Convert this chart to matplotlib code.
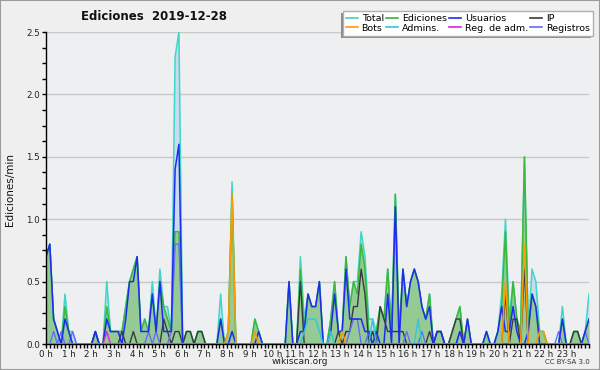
import numpy as np
import matplotlib
matplotlib.use('Agg')
import matplotlib.pyplot as plt
from matplotlib.patches import Rectangle
from matplotlib.lines import Line2D
from matplotlib.ticker import MultipleLocator, FixedLocator, FuncFormatter

# ---- data: edits per minute, one value per 10-minute slot (144 slots) ----
total = [
    0.7, 0.8, 0.2, 0.1, 0.0, 0.4,  0.1, 0.1, 0.0, 0.0, 0.0, 0.0,
    0.0, 0.1, 0.0, 0.0, 0.5, 0.1,  0.1, 0.1, 0.1, 0.3, 0.5, 0.6,
    0.7, 0.1, 0.2, 0.1, 0.5, 0.1,  0.6, 0.3, 0.3, 0.1, 2.3, 2.5,
    0.0, 0.1, 0.1, 0.0, 0.1, 0.1,  0.0, 0.0, 0.0, 0.0, 0.4, 0.0,
    0.1, 1.3, 0.0, 0.0, 0.0, 0.0,  0.0, 0.2, 0.1, 0.0, 0.0, 0.0,
    0.0, 0.0, 0.0, 0.0, 0.5, 0.0,  0.0, 0.7, 0.2, 0.4, 0.3, 0.3,
    0.5, 0.0, 0.0, 0.2, 0.5, 0.1,  0.1, 0.7, 0.3, 0.5, 0.5, 0.9,
    0.7, 0.2, 0.2, 0.1, 0.3, 0.2,  0.6, 0.1, 1.2, 0.1, 0.6, 0.3,
    0.5, 0.6, 0.5, 0.3, 0.2, 0.4,  0.0, 0.1, 0.1, 0.0, 0.0, 0.1,
    0.2, 0.3, 0.0, 0.2, 0.0, 0.0,  0.0, 0.0, 0.1, 0.0, 0.0, 0.1,
    0.4, 1.0, 0.2, 0.5, 0.2, 0.1,  1.5, 0.1, 0.6, 0.5, 0.1, 0.1,
    0.0, 0.0, 0.0, 0.0, 0.3, 0.0,  0.0, 0.1, 0.1, 0.0, 0.1, 0.4,
]
ediciones = [
    0.7, 0.8, 0.2, 0.1, 0.0, 0.3,  0.1, 0.0, 0.0, 0.0, 0.0, 0.0,
    0.0, 0.1, 0.0, 0.0, 0.3, 0.1,  0.1, 0.1, 0.1, 0.3, 0.5, 0.6,
    0.7, 0.1, 0.2, 0.1, 0.4, 0.1,  0.5, 0.3, 0.2, 0.1, 0.9, 0.9,
    0.0, 0.1, 0.1, 0.0, 0.1, 0.1,  0.0, 0.0, 0.0, 0.0, 0.2, 0.0,
    0.1, 1.2, 0.0, 0.0, 0.0, 0.0,  0.0, 0.2, 0.1, 0.0, 0.0, 0.0,
    0.0, 0.0, 0.0, 0.0, 0.5, 0.0,  0.0, 0.6, 0.1, 0.4, 0.3, 0.3,
    0.5, 0.0, 0.0, 0.2, 0.5, 0.1,  0.1, 0.7, 0.3, 0.5, 0.4, 0.8,
    0.6, 0.1, 0.1, 0.1, 0.3, 0.2,  0.6, 0.1, 1.2, 0.1, 0.6, 0.3,
    0.5, 0.6, 0.5, 0.3, 0.2, 0.4,  0.0, 0.1, 0.1, 0.0, 0.0, 0.1,
    0.2, 0.3, 0.0, 0.2, 0.0, 0.0,  0.0, 0.0, 0.1, 0.0, 0.0, 0.1,
    0.3, 0.9, 0.1, 0.5, 0.2, 0.1,  1.5, 0.1, 0.4, 0.3, 0.1, 0.1,
    0.0, 0.0, 0.0, 0.0, 0.2, 0.0,  0.0, 0.1, 0.1, 0.0, 0.1, 0.2,
]
usuarios = [
    0.7, 0.8, 0.2, 0.1, 0.0, 0.2,  0.1, 0.0, 0.0, 0.0, 0.0, 0.0,
    0.0, 0.1, 0.0, 0.0, 0.2, 0.1,  0.1, 0.1, 0.0, 0.2, 0.5, 0.5,
    0.7, 0.1, 0.1, 0.1, 0.4, 0.1,  0.5, 0.1, 0.1, 0.1, 1.4, 1.6,
    0.0, 0.0, 0.0, 0.0, 0.0, 0.0,  0.0, 0.0, 0.0, 0.0, 0.2, 0.0,
    0.0, 0.1, 0.0, 0.0, 0.0, 0.0,  0.0, 0.0, 0.1, 0.0, 0.0, 0.0,
    0.0, 0.0, 0.0, 0.0, 0.5, 0.0,  0.0, 0.1, 0.1, 0.4, 0.3, 0.3,
    0.5, 0.0, 0.0, 0.1, 0.4, 0.1,  0.1, 0.6, 0.2, 0.2, 0.2, 0.2,
    0.1, 0.1, 0.0, 0.1, 0.0, 0.0,  0.4, 0.0, 1.1, 0.0, 0.6, 0.3,
    0.5, 0.6, 0.5, 0.3, 0.2, 0.3,  0.0, 0.1, 0.1, 0.0, 0.0, 0.0,
    0.0, 0.1, 0.0, 0.2, 0.0, 0.0,  0.0, 0.0, 0.1, 0.0, 0.0, 0.1,
    0.3, 0.1, 0.1, 0.3, 0.1, 0.0,  0.0, 0.1, 0.4, 0.3, 0.0, 0.0,
    0.0, 0.0, 0.0, 0.0, 0.2, 0.0,  0.0, 0.0, 0.0, 0.0, 0.1, 0.2,
]
ip = [
    0.0, 0.0, 0.0, 0.0, 0.0, 0.0,  0.0, 0.0, 0.0, 0.0, 0.0, 0.0,
    0.0, 0.1, 0.0, 0.0, 0.0, 0.0,  0.0, 0.0, 0.1, 0.0, 0.0, 0.1,
    0.0, 0.0, 0.0, 0.0, 0.0, 0.0,  0.0, 0.2, 0.1, 0.0, 0.1, 0.1,
    0.0, 0.1, 0.1, 0.0, 0.1, 0.1,  0.0, 0.0, 0.0, 0.0, 0.0, 0.0,
    0.0, 0.0, 0.0, 0.0, 0.0, 0.0,  0.0, 0.0, 0.0, 0.0, 0.0, 0.0,
    0.0, 0.0, 0.0, 0.0, 0.0, 0.0,  0.0, 0.5, 0.0, 0.0, 0.0, 0.0,
    0.0, 0.0, 0.0, 0.0, 0.0, 0.1,  0.0, 0.1, 0.1, 0.3, 0.3, 0.6,
    0.4, 0.0, 0.1, 0.0, 0.3, 0.2,  0.1, 0.1, 0.1, 0.1, 0.1, 0.0,
    0.0, 0.0, 0.0, 0.0, 0.0, 0.1,  0.0, 0.1, 0.1, 0.0, 0.0, 0.1,
    0.2, 0.2, 0.0, 0.0, 0.0, 0.0,  0.0, 0.0, 0.0, 0.0, 0.0, 0.0,
    0.0, 0.4, 0.0, 0.2, 0.2, 0.0,  0.6, 0.0, 0.0, 0.0, 0.0, 0.0,
    0.0, 0.0, 0.0, 0.0, 0.0, 0.0,  0.0, 0.1, 0.1, 0.0, 0.0, 0.0,
]
bots = [0.0] * 144
for i, v in [(48, 0.1), (49, 1.2), (55, 0.1), (78, 0.1), (121, 0.5),
             (126, 0.8), (130, 0.1), (131, 0.1)]:
    bots[i] = v
admins = [0.0] * 144
for i, v in [(68, 0.1), (69, 0.2), (70, 0.2), (71, 0.2), (72, 0.1),
             (75, 0.1), (86, 0.2), (98, 0.2)]:
    admins[i] = v
reg_adm = [0.0] * 144
for i, v in [(16, 0.1)]:
    reg_adm[i] = v
registros = [0.0] * 144
for i, v in [(2, 0.1), (4, 0.1), (7, 0.1), (27, 0.1), (29, 0.1), (33, 0.1),
             (34, 0.8), (35, 0.8), (80, 0.1), (81, 0.2), (82, 0.2), (85, 0.1),
             (95, 0.1), (99, 0.1), (109, 0.1), (135, 0.1), (142, 0.1)]:
    registros[i] = v

hour_labels = [f"{h} h" for h in range(24)]
legend_labels = ["Total", "Bots", "Ediciones", "Admins.", "Usuarios",
                 "Reg. de adm.", "IP", "Registros"]

# ---- styling ----
C_TOTAL = '#3fd6c6'
C_TOTAL_FILL = '#c9dbef'
C_ED = '#3cb83c'
C_ED_FILL = '#95ca95'
C_US = '#1f2bf0'
C_IP = '#3a3a3a'
C_BOTS = '#ff9a00'
C_ADM = '#2ec8dc'
C_REGADM = '#e020e0'
C_REG = '#6a6aff'

n = len(total)
x = np.linspace(0, 24, n)

fig = plt.figure(figsize=(6, 3.7), dpi=100, facecolor='#efefef')
ax = fig.add_axes([46 / 600, 26 / 370, 543 / 600, 312 / 370])
ax.set_facecolor('#edeff1')

ax.fill_between(x, total, 0, color=C_TOTAL_FILL, lw=0, zorder=1)
ax.fill_between(x, ediciones, 0, color=C_ED_FILL, lw=0, zorder=2)
ax.plot(x, total, color=C_TOTAL, lw=1.1, zorder=3)
ax.plot(x, ediciones, color=C_ED, lw=1.1, zorder=4)
ax.plot(x, ip, color=C_IP, lw=1.0, zorder=5)
ax.plot(x, registros, color=C_REG, lw=1.0, zorder=6)
ax.plot(x, usuarios, color=C_US, lw=1.1, zorder=7)
ax.plot(x, admins, color=C_ADM, lw=1.0, zorder=8)
ax.plot(x, reg_adm, color=C_REGADM, lw=1.0, zorder=9)
ax.plot(x, bots, color=C_BOTS, lw=1.1, zorder=10)

ax.set_xlim(0, 24)
ax.set_ylim(0, 2.5)
for s in ('top', 'right'):
    ax.spines[s].set_visible(False)
for s in ('left', 'bottom'):
    ax.spines[s].set_color('black')
    ax.spines[s].set_linewidth(1.0)
    ax.spines[s].set_zorder(20)

ax.yaxis.set_major_locator(MultipleLocator(0.5))
ax.yaxis.set_minor_locator(MultipleLocator(0.125))
ax.yaxis.set_major_formatter(FuncFormatter(lambda v, p: f"{v:.1f}"))
ax.xaxis.set_major_locator(FixedLocator(range(24)))
ax.set_xticklabels(hour_labels)
ax.xaxis.set_minor_locator(MultipleLocator(1 / 6))
ax.tick_params(which='both', direction='out', length=3.2, width=1,
               color='black', labelsize=6.3, pad=1, labelcolor='#222222')
ax.yaxis.grid(True, color='#c8c8c8', lw=1)
ax.set_axisbelow(True)

handles = [Line2D([], [], color=c, lw=1.2) for c in
           [C_TOTAL, C_BOTS, C_ED, C_ADM, C_US, C_REGADM, C_IP, C_REG]]
fig.legend(handles, legend_labels, ncol=4, loc='upper right',
           bbox_to_anchor=(593 / 600, 1 - 11 / 370), fontsize=6.8,
           frameon=True, fancybox=False, edgecolor='#b0b0b0',
           facecolor='white', framealpha=1, handlelength=1.3,
           handletextpad=0.35, columnspacing=0.25, labelspacing=0.05,
           borderpad=0.35, borderaxespad=0,
           shadow={'ox': -1.6, 'oy': -1.6, 'facecolor': '#8a8a8a',
                   'edgecolor': 'none', 'alpha': 1.0})

fig.text(154 / 600, 1 - 16 / 370, 'Ediciones  2019-12-28', fontsize=8.5,
         fontweight='bold', ha='center', va='center', color='#111111')
fig.text(10 / 600, 1 - 190 / 370, 'Ediciones/min', rotation=90,
         fontsize=7.5, ha='center', va='center', color='#111111')
fig.text(300 / 600, 1 - 362 / 370, 'wikiscan.org', fontsize=6.5,
         ha='center', va='center', color='#222222')
fig.text(590 / 600, 1 - 362 / 370, 'CC BY-SA 3.0', fontsize=5,
         ha='right', va='center', color='#333333')

fig.patches.append(Rectangle((0, 0), 1, 1, transform=fig.transFigure,
                             fill=False, edgecolor='#9a9a9a', lw=1.5))

fig.savefig('out.png', dpi=100, facecolor=fig.get_facecolor())
